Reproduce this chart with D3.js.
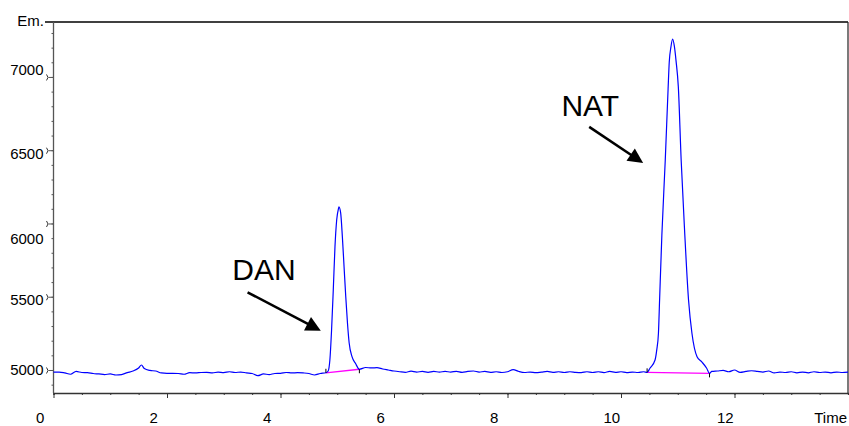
<!DOCTYPE html>
<html>
<head>
<meta charset="utf-8">
<script src="https://d3js.org/d3.v7.min.js"></script>
<style>
body { margin: 0; background: #fff; }
svg { display: block; font-family: "Liberation Sans", Arial, sans-serif; }
</style>
</head>
<body>
<div class="canva"></div>
<script>
// chromatogram trace (time in min, emission units)
const times = [
  0.0, 0.1, 0.2, 0.3, 0.4, 0.5, 0.6, 0.7, 0.8, 0.9,
  1.0, 1.1, 1.2, 1.3, 1.4, 1.5, 1.55, 1.6, 1.7, 1.8, 1.9,
  2.0, 2.1, 2.2, 2.3, 2.4, 2.5, 2.6, 2.7, 2.8, 2.9,
  3.0, 3.1, 3.2, 3.3, 3.4, 3.5, 3.6, 3.7, 3.8, 3.9,
  4.0, 4.1, 4.2, 4.3, 4.4, 4.5, 4.6, 4.7,
  4.80, 4.84, 4.87, 4.90, 4.93, 4.96, 4.99, 5.02, 5.03, 5.06, 5.09,
  5.12, 5.15, 5.18, 5.21, 5.26, 5.32, 5.39,
  5.5, 5.6, 5.7, 5.8, 5.9,
  6.0, 6.1, 6.2, 6.3, 6.4, 6.5, 6.6, 6.7, 6.8, 6.9,
  7.0, 7.1, 7.2, 7.3, 7.4, 7.5, 7.6, 7.7, 7.8, 7.9,
  8.0, 8.1, 8.2, 8.3, 8.4, 8.5, 8.6, 8.7, 8.8, 8.9,
  9.0, 9.1, 9.2, 9.3, 9.4, 9.5, 9.6, 9.7, 9.8, 9.9,
  10.0, 10.1, 10.2, 10.3, 10.4,
  10.46, 10.51, 10.60, 10.63, 10.66, 10.68, 10.72, 10.78, 10.83, 10.85, 10.88,
  10.91, 10.94, 10.97, 11.01, 11.06, 11.12, 11.19, 11.25, 11.34, 11.42, 11.51, 11.56,
  11.6, 11.7, 11.8, 11.9,
  12.0, 12.1, 12.2, 12.3, 12.4, 12.5, 12.6, 12.7, 12.8, 12.9,
  13.0, 13.1, 13.2, 13.3, 13.4, 13.5, 13.6, 13.7, 13.8, 13.9, 14.0
]
const emission = [
  4986, 4986, 4980, 4971, 4990, 4983, 4982, 4976, 4973, 4969,
  4973, 4966, 4969, 4982, 4993, 5014, 5034, 5010, 4997, 4993, 4980,
  4977, 4977, 4976, 4971, 4982, 4980, 4983, 4984, 4980, 4986,
  4982, 4988, 4983, 4986, 4980, 4976, 4961, 4973, 4969, 4976,
  4977, 4983, 4980, 4982, 4980, 4976, 4966, 4976,
  4981, 4993, 5068, 5273, 5546, 5842, 6024, 6099, 6113, 6072, 5910,
  5705, 5500, 5321, 5184, 5091, 5046, 5005,
  5017, 5014, 5016, 5007, 5000,
  4993, 4988, 4984, 4992, 4986, 4990, 4984, 4990, 4986, 4990,
  4986, 4991, 4984, 4990, 4993, 4986, 4990, 4984, 4988, 4983,
  4988, 5003, 4990, 4983, 4986, 4982, 4986, 4990, 4984, 4988,
  4983, 4988, 4984, 4982, 4988, 4983, 4988, 4982, 4990, 4984,
  4988, 4982, 4986, 4983, 4988,
  4984, 5012, 5068, 5137, 5253, 5478, 5920, 6433, 6920, 7100, 7205,
  7259, 7210, 7110, 6934, 6433, 5956, 5478, 5251, 5091, 5057, 5012, 4977,
  4990, 4993, 4997, 4988,
  5000, 4984, 4990, 4995, 4991, 4986, 4993, 4980, 4986, 4983,
  4988, 4981, 4986, 4981, 4988, 4983, 4986, 4981, 4986, 4983, 4986
]

// integrated peaks: name, start and end of the drawn baseline [time, emission]
const peakNames = ['DAN', 'NAT']
const peakStart = [[4.80, 4981], [10.46, 4984]]
const peakEnd = [[5.39, 5005], [11.56, 4977]]

// annotation anchors in data units [time, emission]
const labelAt = [[3.15, 5614], [8.95, 6734]]
const arrowFrom = [[3.42, 5530], [9.44, 6659]]
const arrowTo = [[4.71, 5268], [10.39, 6413]]

// axes
const xMajor = [0, 2, 4, 6, 8, 10, 12]
const yMajor = [5000, 5500, 6000, 6500, 7000]
const yLabelNudge = [-1, 2, 15, 3, -8]

const W = 849, H = 426
const mLeft = 53.5, mRight = 848, mTop = 22, mBottom = 393

const svg = d3.select('.canva').append('svg')
    .attr('width', W)
    .attr('height', H)

const x = d3.scaleLinear().domain([0, 14]).range([mLeft, mRight])
const y = d3.scaleLinear().domain([4843, 7375]).range([mBottom, mTop])

// frame
svg.append('line')
    .attr('x1', 45).attr('x2', mRight)
    .attr('y1', mTop).attr('y2', mTop)
    .attr('stroke', '#000').attr('stroke-width', 1.5)
svg.append('line')
    .attr('x1', mRight).attr('x2', mRight)
    .attr('y1', mTop).attr('y2', mBottom)
    .attr('stroke', '#222').attr('stroke-width', 1.2)

// x axis: minor every 0.5, major every 2
svg.append('g')
    .attr('transform', `translate(0,${mBottom})`)
    .attr('color', '#333')
    .call(d3.axisBottom(x).tickValues(d3.range(0, 14.01, 0.5)).tickSize(2).tickFormat(''))
    .call(g => g.select('.domain').attr('stroke-width', 1.3))
svg.append('g')
    .attr('transform', `translate(0,${mBottom})`)
    .attr('color', '#333')
    .call(d3.axisBottom(x).tickValues(xMajor).tickSize(5).tickFormat(d => d))
    .call(g => g.select('.domain').remove())
    .call(g => g.selectAll('text')
        .attr('fill', '#000')
        .attr('font-size', 15)
        .attr('text-anchor', 'start')
        .attr('x', -18)
        .attr('y', 30)
        .attr('dy', 0))

// y axis: minor every 100, major every 500
svg.append('g')
    .attr('transform', `translate(${mLeft},0)`)
    .attr('color', '#555')
    .call(d3.axisLeft(y).tickValues(d3.range(4900, 7350, 100)).tickSize(2).tickFormat('').tickSizeOuter(0))
    .call(g => g.select('.domain').attr('d', `M0,${mTop}V${mBottom}`).attr('stroke-width', 1.3))
svg.append('g')
    .attr('transform', `translate(${mLeft},0)`)
    .attr('color', '#555')
    .call(d3.axisLeft(y).tickValues(yMajor).tickSize(5).tickFormat(d => d))
    .call(g => g.select('.domain').remove())
    .call(g => g.selectAll('.tick').append('path')
        .attr('d', 'M-7,-3Q-4,0 -7,3')
        .attr('fill', 'none')
        .attr('stroke', '#333')
        .attr('stroke-width', 1))
    .call(g => g.selectAll('text')
        .attr('fill', '#000')
        .attr('font-size', 15)
        .attr('x', -10)
        .attr('dy', 0)
        .attr('y', (d, i) => yLabelNudge[i] + 5.4))

svg.append('text')
    .text('Em.')
    .attr('x', 44).attr('y', 26)
    .attr('text-anchor', 'end')
    .attr('font-size', 15)

svg.append('text')
    .text('Time')
    .attr('x', 847).attr('y', 423)
    .attr('text-anchor', 'end')
    .attr('font-size', 15)

// integration baselines
svg.selectAll('.base')
    .data(peakNames)
    .enter().append('line')
    .attr('class', 'base')
    .attr('x1', (d, i) => x(peakStart[i][0]))
    .attr('y1', (d, i) => y(peakStart[i][1]))
    .attr('x2', (d, i) => x(peakEnd[i][0]))
    .attr('y2', (d, i) => y(peakEnd[i][1]))
    .attr('stroke', '#ff00ff')
    .attr('stroke-width', 1.3)

// trace
const line = d3.line()
    .x((d, i) => x(times[i]))
    .y(d => y(d))
    .curve(d3.curveMonotoneX)

svg.append('path')
    .attr('d', line(emission))
    .attr('fill', 'none')
    .attr('stroke', '#0000ff')
    .attr('stroke-width', 1.2)

// peak start / end markers
svg.selectAll('.mstart')
    .data(peakStart)
    .enter().append('line')
    .attr('x1', d => x(d[0])).attr('x2', d => x(d[0]))
    .attr('y1', d => y(d[1]) - 4).attr('y2', d => y(d[1]))
    .attr('stroke', '#000').attr('stroke-width', 1)
svg.selectAll('.mend')
    .data(peakEnd)
    .enter().append('line')
    .attr('x1', d => x(d[0])).attr('x2', d => x(d[0]))
    .attr('y1', d => y(d[1])).attr('y2', d => y(d[1]) + 4)
    .attr('stroke', '#000').attr('stroke-width', 1)

// labels and arrows
svg.selectAll('.plabel')
    .data(peakNames)
    .enter().append('text')
    .text(d => d)
    .attr('x', (d, i) => x(labelAt[i][0]))
    .attr('y', (d, i) => y(labelAt[i][1]))
    .attr('font-size', 30)
    .attr('fill', '#000')

peakNames.forEach((name, i) => {
  const x0 = x(arrowFrom[i][0]), y0 = y(arrowFrom[i][1])
  const x1 = x(arrowTo[i][0]), y1 = y(arrowTo[i][1])
  const len = Math.hypot(x1 - x0, y1 - y0)
  const ux = (x1 - x0) / len, uy = (y1 - y0) / len
  const headLen = 15, headHalf = 7.5
  const bx = x1 - ux * headLen, by = y1 - uy * headLen
  svg.append('line')
    .attr('x1', x0).attr('y1', y0)
    .attr('x2', bx + ux * 2).attr('y2', by + uy * 2)
    .attr('stroke', '#000').attr('stroke-width', 2.5)
  svg.append('path')
    .attr('d', `M${x1},${y1}L${bx - uy * headHalf},${by + ux * headHalf}L${bx + uy * headHalf},${by - ux * headHalf}Z`)
    .attr('fill', '#000')
})
</script>
</body>
</html>
